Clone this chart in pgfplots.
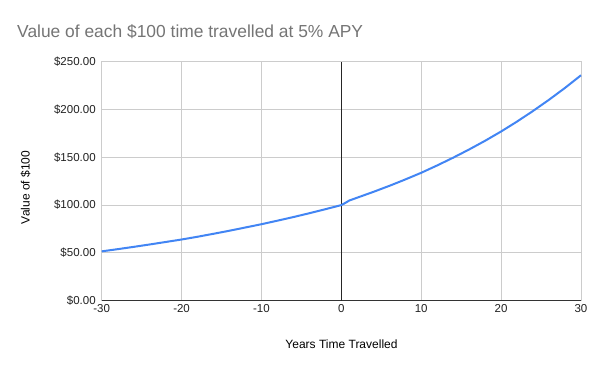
\documentclass[border=0pt]{standalone}
\usepackage{pgfplots}
\pgfplotsset{compat=1.18}
\usepackage{fontspec}
\setmainfont{Liberation Sans}
\definecolor{lineblue}{HTML}{4285F4}
\definecolor{gridgray}{HTML}{CCCCCC}
\definecolor{titlegray}{HTML}{757575}
\definecolor{ticktext}{HTML}{222222}
\begin{document}
\begin{tikzpicture}
\path[use as bounding box,fill=white] (0,0) rectangle (600pt,371pt);
\node[anchor=base west,text=titlegray,font=\fontsize{17.4pt}{20pt}\selectfont,inner sep=0pt] at (17pt,333pt) {Value of each \$100 time travelled at 5\% APY};
\node[anchor=base,font=\fontsize{12pt}{14pt}\selectfont,inner sep=0pt] at (341.5pt,22.7pt) {Years Time Travelled};
\node[rotate=90,font=\fontsize{12pt}{14pt}\selectfont,inner sep=0pt] at (25.7pt,183.5pt) {Value of \$100};
\begin{axis}[
  at={(101.7pt,70.3pt)}, anchor=south west,
  scale only axis, width=479.3pt, height=239pt,
  xmin=-30, xmax=30, ymin=0, ymax=250,
  xtick={-30,-20,-10,0,10,20,30},
  xticklabels={-30,-20,-10,0,10,20,30},
  ytick={0,50,100,150,200,250},
  yticklabels={\$0.00,\$50.00,\$100.00,\$150.00,\$200.00,\$250.00},
  major tick length=0pt,
  grid=major,
  major grid style={gridgray, line width=0.8pt},
  axis line style={gridgray, line width=0.8pt},
  tick label style={font=\fontsize{11.5pt}{13pt}\selectfont, text=ticktext},
  xticklabel style={yshift=-0.5pt},
  yticklabel style={xshift=-2.5pt},
  clip=false,
]
\draw[black!80, line width=0.9pt] (axis cs:-30,0) -- (axis cs:30,0);
\draw[black!85, line width=0.9pt] (axis cs:0,0) -- (axis cs:0,250);
\addplot[lineblue, line width=2pt, line join=round] coordinates {
(-30,51.6) (-28,53.9) (-26,56.3) (-24,58.8) (-22,61.4) (-20,64.0)
(-18,66.9) (-16,70.0) (-14,73.2) (-12,76.6) (-10,80.0)
(-8,83.7) (-6,87.5) (-4,91.5) (-2,95.7) (0,100)
(0.5,102.3) (1,104.8) (2,107.8) (4,113.8) (6,120.1) (8,126.8) (10,133.8)
(12,141.5) (14,149.6) (16,158.2) (18,167.3) (20,177.0)
(22,187.4) (24,198.5) (26,210.2) (28,222.6) (30,235.8)
};
\end{axis}
\end{tikzpicture}
\end{document}
